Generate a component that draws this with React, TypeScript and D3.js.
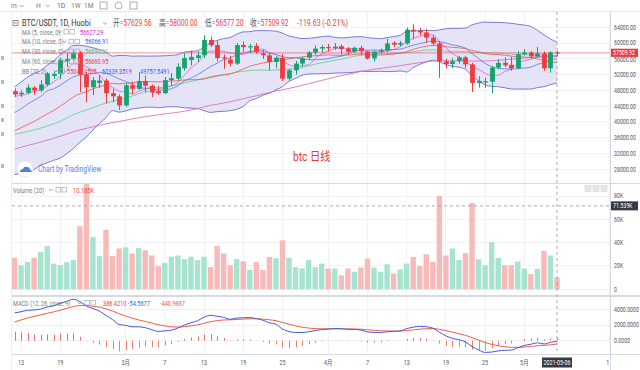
import React, { useEffect, useRef } from "react";
import * as d3 from "d3";

const W = 640;
const H = 370;

// BTC/USDT 1D, 2021-02-12 .. 2021-05-06, prices in thousands of USDT
const opens = [47.8, 47.0, 47.4, 48.7, 48.0, 49.5, 51.7, 52.2, 55.4, 56.0, 57.6, 52.0, 48.8, 49.9, 50.5, 47.3, 46.5, 44.2, 49.3, 48.4, 50.4, 49.2, 47.8, 47.3, 50.6, 51.0, 53.6, 55.7, 56.2, 56.9, 60.8, 59.5, 56.4, 55.8, 54.8, 59.5, 58.9, 59.3, 57.4, 56.9, 55.2, 56.3, 51.0, 53.1, 54.8, 56.3, 57.6, 58.6, 59.0, 58.7, 59.2, 58.6, 57.8, 58.8, 57.8, 56.1, 57.8, 58.1, 60.1, 59.6, 59.9, 63.4, 63.1, 62.7, 61.4, 59.9, 55.4, 54.7, 55.4, 56.4, 54.6, 49.9, 50.0, 50.2, 53.8, 55.0, 54.5, 53.6, 57.2, 57.6, 56.6, 57.4, 53.6, 57.63];
const highs = [48.5, 48.0, 49.5, 49.1, 50.6, 52.7, 52.8, 56.3, 57.5, 58.4, 58.0, 52.6, 51.4, 51.9, 51.0, 48.4, 47.0, 49.8, 50.2, 52.6, 51.8, 49.5, 49.2, 51.4, 52.4, 54.9, 57.4, 58.1, 57.9, 62.0, 61.7, 60.6, 57.1, 56.8, 60.0, 60.4, 59.8, 60.0, 58.3, 57.4, 56.6, 57.2, 53.5, 55.5, 56.5, 58.0, 59.4, 59.5, 59.8, 60.0, 59.7, 59.0, 59.1, 59.3, 58.0, 58.1, 58.6, 61.1, 60.4, 60.5, 64.0, 64.8, 63.8, 63.6, 62.0, 60.5, 56.0, 56.2, 56.8, 56.8, 55.0, 51.6, 51.2, 54.2, 55.9, 56.4, 56.5, 57.9, 58.5, 58.0, 59.0, 57.9, 57.9, 58.0];
const lows = [46.4, 46.3, 47.0, 46.9, 47.5, 49.0, 50.9, 50.8, 53.9, 55.5, 47.6, 45.0, 46.8, 48.6, 44.7, 45.0, 43.0, 43.8, 47.0, 48.1, 47.5, 46.3, 46.9, 47.1, 49.3, 50.5, 53.0, 54.3, 55.2, 56.1, 59.0, 55.4, 53.5, 54.1, 54.5, 57.8, 57.4, 57.3, 56.0, 53.1, 53.7, 50.4, 50.5, 52.0, 54.0, 55.8, 57.0, 57.6, 57.8, 58.3, 57.0, 57.0, 57.5, 57.0, 55.8, 55.3, 57.3, 57.8, 59.0, 59.2, 59.6, 61.0, 62.0, 60.0, 59.5, 51.2, 53.6, 53.6, 54.8, 53.6, 47.6, 48.7, 48.6, 47.3, 53.4, 53.9, 53.0, 53.3, 56.8, 56.1, 56.3, 53.0, 52.5, 56.58];
const closes = [47.0, 47.4, 48.7, 48.0, 49.5, 52.3, 52.2, 55.6, 56.0, 57.6, 52.0, 48.8, 50.6, 50.5, 47.3, 46.5, 44.2, 49.3, 48.4, 50.4, 49.2, 47.5, 47.3, 50.6, 51.1, 54.0, 56.2, 56.5, 56.9, 60.8, 59.5, 56.2, 56.1, 54.8, 59.5, 59.0, 59.2, 57.8, 56.9, 55.2, 56.3, 51.0, 53.1, 54.8, 56.2, 57.6, 58.6, 59.0, 58.7, 59.1, 58.5, 57.8, 58.8, 57.9, 56.1, 57.8, 58.2, 59.9, 59.6, 60.0, 63.4, 63.0, 62.7, 61.4, 59.9, 55.4, 54.7, 55.4, 56.4, 54.6, 49.9, 50.4, 50.3, 53.8, 55.0, 54.4, 53.6, 57.2, 57.6, 56.6, 57.4, 53.6, 57.63, 57.51];
// volume, thousands
const volumes = [27, 20.6, 23.5, 27, 32, 37, 22, 20.6, 23.3, 25, 54, 92, 45, 28.4, 51, 28.4, 35, 36, 30.7, 35.3, 33.5, 29, 19.8, 22.7, 28, 29, 25.8, 28, 25, 28, 19, 37, 30.7, 20.6, 26, 24, 16.6, 23.5, 16.6, 27.8, 26.6, 42, 27, 19, 18, 25, 19, 22, 17.8, 17.8, 12, 17.8, 15, 18.7, 26.4, 18.7, 15, 21.5, 13.5, 17, 22, 27.8, 20, 30, 23.5, 80, 29, 35, 25, 31, 74, 25.8, 20.6, 40.4, 27, 20.6, 20.6, 23.8, 17.8, 13, 17.5, 33, 29, 10.185];
// closes before the visible range (2020-12-15 .. 2021-02-11), warm-up for MA / BB / MACD
const priorCloses = [19.4, 21.3, 22.8, 23.1, 23.8, 23.5, 22.7, 23.8, 23.2, 23.7, 24.7, 26.4, 26.3, 27.0, 27.3, 28.8, 29.0, 29.4, 32.2, 33.0, 32.0, 34.0, 36.8, 39.4, 40.6, 40.2, 38.2, 35.5, 34.0, 37.4, 39.1, 36.8, 36.0, 35.8, 36.6, 36.0, 35.5, 30.8, 33.0, 32.1, 32.3, 32.5, 32.5, 30.4, 33.5, 34.3, 34.3, 33.1, 33.5, 35.5, 37.7, 36.9, 38.3, 39.3, 38.8, 46.4, 46.5, 44.8, 47.9];

const tickIdx = [1, 7, 17, 23, 29, 35, 41, 48, 54, 60, 66, 72, 78, 91];
const tickLabels = ["13", "19", "3月", "7", "13", "19", "25", "4月", "7", "13", "19", "25", "5月", "13"];
const priceTicks = [64, 60, 56, 52, 48, 44, 40, 36, 32, 28];
const volTicks = [80, 60, 40, 20, 0];
const macdTicks = [4000, 2000, 0];

const lastPrice = 57.50992;
const crossVol = 71.539;

const SX = 0.82;
const FONT = "Roboto, 'Noto Sans CJK SC', sans-serif";

const App = () => {
  const svgRef = useRef<SVGSVGElement | null>(null);

  useEffect(() => {
    const svg = d3.select(svgRef.current);
    svg.selectAll("*").remove();

    const L = 12;
    const R = 610;
    const main = { top: 12, bottom: 183 };
    const vol = { top: 184, bottom: 295 };
    const mac = { top: 297, bottom: 354 };

    const n = closes.length;
    const x = d3.scaleLinear().domain([0, n - 1]).range([14.5, 557]);
    const yP = d3.scaleLinear().domain([28, 64]).range([169.3, 27.3]);
    const yV = d3.scaleLinear().domain([0, 80]).range([289.3, 196]);
    const yM = d3.scaleLinear().domain([0, 4000]).range([340.7, 309.3]);

    // indicators
    const all = priorCloses.concat(closes);
    const P = priorCloses.length;
    const win = (i: number, len: number) => all.slice(P + i - len + 1, P + i + 1);
    const sma = (len: number) => closes.map((_, i) => d3.mean(win(i, len)) as number);
    const ma5 = sma(5);
    const ma10 = sma(10);
    const ma30 = sma(30);
    const ma60 = sma(60);
    const bbMid = sma(20);
    const bbDev = closes.map((_, i) => {
      const w = win(i, 20);
      const m = d3.mean(w) as number;
      return Math.sqrt(d3.mean(w, (v) => (v - m) * (v - m)) as number);
    });
    const bbUp = bbMid.map((m, i) => m + 2 * bbDev[i]);
    const bbLo = bbMid.map((m, i) => m - 2 * bbDev[i]);

    const ema = (a: number[], len: number) => {
      const k = 2 / (len + 1);
      const out: number[] = [];
      a.forEach((v, i) => out.push(i === 0 ? v : v * k + out[i - 1] * (1 - k)));
      return out;
    };
    const e12 = ema(all, 12);
    const e26 = ema(all, 26);
    const macdAll = all.map((_, i) => (e12[i] - e26[i]) * 1000);
    const sigAll = ema(macdAll, 9);
    const macd = macdAll.slice(P);
    const signal = sigAll.slice(P);
    const hist = macd.map((m, i) => m - signal[i]);

    const defs = svg.append("defs");
    const clip = (id: string, y0: number, y1: number) =>
      defs.append("clipPath").attr("id", id).append("rect")
        .attr("x", L).attr("y", y0).attr("width", R - L).attr("height", y1 - y0);
    clip("cMain", main.top, main.bottom);
    clip("cVol", vol.top, vol.bottom);
    clip("cMac", mac.top, mac.bottom);
    defs.append("clipPath").attr("id", "cAxis").append("rect")
      .attr("x", 0).attr("y", 355).attr("width", R - 1).attr("height", 15);

    svg.append("rect").attr("width", W).attr("height", H).attr("fill", "#fff");

    const txt = (
      g: any, px: number, py: number, s: string,
      o: { size?: number; fill?: string; anchor?: string; weight?: string } = {}
    ) =>
      g.append("text")
        .attr("transform", `translate(${px},${py}) scale(${SX},1)`)
        .attr("font-size", o.size ?? 7)
        .attr("fill", o.fill ?? "#555")
        .attr("text-anchor", o.anchor ?? "start")
        .attr("font-weight", o.weight ?? "normal")
        .text(s);

    const chev = (g: any, px: number, py: number) =>
      g.append("path").attr("d", `M${px},${py} l1.8,1.8 l1.8,-1.8`)
        .attr("fill", "none").attr("stroke", "#888").attr("stroke-width", 0.8);

    const box = (g: any, px: number, py: number) =>
      g.append("rect").attr("x", px).attr("y", py).attr("width", 4.5).attr("height", 4.5)
        .attr("fill", "none").attr("stroke", "#aaa").attr("stroke-width", 0.7);

    // grid
    const grid = svg.append("g").attr("stroke", "#f0f2f6").attr("stroke-width", 1).attr("shape-rendering", "crispEdges");
    tickIdx.forEach((t) => {
      if (x(t) < R) grid.append("line").attr("x1", x(t)).attr("x2", x(t)).attr("y1", main.top).attr("y2", mac.bottom);
    });
    priceTicks.forEach((t) => grid.append("line").attr("x1", L).attr("x2", R).attr("y1", yP(t)).attr("y2", yP(t)));
    volTicks.forEach((t) => grid.append("line").attr("x1", L).attr("x2", R).attr("y1", yV(t)).attr("y2", yV(t)));
    macdTicks.forEach((t) => grid.append("line").attr("x1", L).attr("x2", R).attr("y1", yM(t)).attr("y2", yM(t)));

    // ---------- main pane ----------
    const gm = svg.append("g").attr("clip-path", "url(#cMain)");
    gm.append("path")
      .datum(closes)
      .attr("fill", "#e4e4f6")
      .attr("d", d3.area<number>().x((_, i) => x(i)).y0((_, i) => yP(bbLo[i])).y1((_, i) => yP(bbUp[i])).curve(d3.curveMonotoneX));

    const line = (vals: number[], color: string, op = 1) =>
      gm.append("path")
        .datum(vals)
        .attr("fill", "none")
        .attr("stroke", color)
        .attr("stroke-opacity", op)
        .attr("stroke-width", 1)
        .attr("d", d3.line<number>().x((_, i) => x(i)).y((d) => yP(d)).curve(d3.curveMonotoneX));

    line(bbUp, "#7b7bd0");
    line(bbLo, "#7b7bd0");
    line(ma60, "#d76cc0", 0.85);
    line(ma30, "#5ccf8a", 0.8);
    line(bbMid, "#ef5350", 0.8);
    line(ma10, "#4f6fe0", 0.75);
    line(ma5, "#e04fe0", 0.75);

    gm.append("line")
      .attr("x1", L).attr("x2", R).attr("y1", yP(lastPrice)).attr("y2", yP(lastPrice))
      .attr("stroke", "#f23645").attr("stroke-opacity", 0.55).attr("stroke-width", 1);

    const up = "#16a26f";
    const dn = "#ef3b3b";
    const cg = gm.append("g");
    closes.forEach((c, i) => {
      const o = opens[i];
      const col = c >= o ? up : dn;
      const cx = Math.round(x(i)) + 0.5;
      cg.append("line").attr("x1", cx).attr("x2", cx).attr("y1", yP(highs[i])).attr("y2", yP(lows[i]))
        .attr("stroke", col).attr("stroke-width", 1);
      const top = yP(Math.max(o, c));
      const bot = yP(Math.min(o, c));
      cg.append("rect").attr("x", cx - 2.4).attr("y", top).attr("width", 4.8)
        .attr("height", Math.max(1, bot - top)).attr("fill", col);
    });

    // watermark-ish texts
    txt(svg, 293, 161, "btc 日线", { size: 12.5, fill: "#e53935" });

    const logo = svg.append("g");
    logo.append("circle").attr("cx", 25).attr("cy", 169).attr("r", 8).attr("fill", "#fff")
      .attr("stroke", "#e3e5ea").attr("stroke-width", 0.8);
    logo.append("path")
      .attr("d", "M20,172 q0,-3 3,-3 q1,-3 4,-2 q3,0 3,3 q2,0 2,2 z")
      .attr("fill", "#4d7fe0");
    txt(logo, 38, 171.5, "Chart by TradingView", { size: 8.2, fill: "#4f86e8" });

    // legend main
    const lg = svg.append("g");
    lg.append("rect").attr("x", 13).attr("y", 20.5).attr("width", 5).attr("height", 5)
      .attr("fill", "none").attr("stroke", "#666").attr("stroke-width", 0.7);
    lg.append("line").attr("x1", 14).attr("x2", 17).attr("y1", 23).attr("y2", 23).attr("stroke", "#666").attr("stroke-width", 0.7);
    txt(lg, 22, 26, "BTC/USDT, 1D, Huobi", { size: 9, fill: "#333" });
    chev(lg, 103, 22.5);
    const hdr: [number, string, string][] = [
      [113, "开", "=57629.56"],
      [159, "高", "=58000.00"],
      [205, "低", "=56577.20"],
      [250, "收", "=57509.92"],
    ];
    hdr.forEach(([px, k, v]) => {
      const t = lg.append("text")
        .attr("transform", `translate(${px},26) scale(0.78,1)`)
        .attr("font-size", 8.6);
      t.append("tspan").attr("fill", "#555").text(k);
      t.append("tspan").attr("fill", "#ef3b3b").text(v);
    });
    txt(lg, 297, 26, "-119.63 (-0.21%)", { size: 8.6, fill: "#ef3b3b" });

    const maLeg: [string, string, string, number][] = [
      ["MA (5, close, 0)", "56627.29", "#d81bd8", 80],
      ["MA (10, close, 0)", "56066.91", "#2962ff", 85],
      ["MA (30, close, 0)", "56094.31", "#3fcf76", 85],
      ["MA (60, close, 0)", "56860.95", "#ef3b3b", 85],
    ];
    maLeg.forEach(([name, val, col, vx], k) => {
      const by = 34.5 + k * 9.8;
      txt(lg, 22, by, name, { size: 6.8, fill: "#787b86" });
      chev(lg, vx - 22, by - 3.5);
      box(lg, vx - 16, by - 5);
      box(lg, vx - 10, by - 5);
      txt(lg, vx, by, val, { size: 6.8, fill: col });
    });
    const bby = 34.5 + 4 * 9.8;
    txt(lg, 22, bby, "BB (20, 2)", { size: 6.8, fill: "#787b86" });
    chev(lg, 54, bby - 3.5);
    box(lg, 60, bby - 5);
    txt(lg, 67, bby, "55048.4505", { size: 6.8, fill: "#ef3b3b" });
    txt(lg, 102, bby, "60339.3519", { size: 6.8, fill: "#2962ff" });
    txt(lg, 140, bby, "49757.5491", { size: 6.8, fill: "#2962ff" });

    // ---------- volume pane ----------
    const gv = svg.append("g").attr("clip-path", "url(#cVol)");
    volumes.forEach((v, i) => {
      const col = closes[i] >= opens[i] ? "#a6e4cf" : "#f8b9b9";
      gv.append("rect").attr("x", x(i) - 2.7).attr("y", yV(v)).attr("width", 5.4)
        .attr("height", yV(0) - yV(v)).attr("fill", col);
    });
    gv.append("line").attr("x1", L).attr("x2", R).attr("y1", yV(crossVol)).attr("y2", yV(crossVol))
      .attr("stroke", "#9598a1").attr("stroke-dasharray", "3,3").attr("stroke-width", 0.8);

    txt(svg, 13, 192.5, "Volume (20)", { size: 7, fill: "#787b86" });
    chev(svg, 49, 189);
    box(svg, 56, 187.5);
    box(svg, 62, 187.5);
    txt(svg, 73, 192.5, "10.185K", { size: 7, fill: "#ef3b3b" });
    [585, 593, 601].forEach((bx) =>
      svg.append("rect").attr("x", bx).attr("y", 185.5).attr("width", 6).attr("height", 6)
        .attr("fill", "#e3e5ea").attr("stroke", "#cfd2d9").attr("stroke-width", 0.5));

    // ---------- MACD pane ----------
    const gc = svg.append("g").attr("clip-path", "url(#cMac)");
    hist.forEach((h, i) => {
      const cx = Math.round(x(i)) + 0.5;
      gc.append("line").attr("x1", cx).attr("x2", cx).attr("y1", yM(0)).attr("y2", yM(h))
        .attr("stroke", h >= 0 ? "#ee6d6d" : "#f0826a").attr("stroke-width", 1);
    });
    const mline = (vals: number[], color: string) =>
      gc.append("path").datum(vals).attr("fill", "none").attr("stroke", color).attr("stroke-width", 1)
        .attr("d", d3.line<number>().x((_, i) => x(i)).y((d) => yM(d)).curve(d3.curveMonotoneX));
    mline(signal, "#f0603f");
    mline(macd, "#4a55dc");

    txt(svg, 13, 305.5, "MACD (12, 26, close, 9)", { size: 6.8, fill: "#787b86" });
    chev(svg, 78, 302);
    box(svg, 85, 300.5);
    box(svg, 91, 300.5);
    txt(svg, 103, 305.5, "386.4210", { size: 6.8, fill: "#ef3b3b" });
    txt(svg, 128, 305.5, "-54.5677", { size: 6.8, fill: "#2962ff" });
    txt(svg, 160, 305.5, "-440.9887", { size: 6.8, fill: "#f0603f" });

    // ---------- separators / axes ----------
    const sep = svg.append("g").attr("stroke", "#d6d9e0").attr("shape-rendering", "crispEdges");
    sep.append("line").attr("x1", 0).attr("x2", W).attr("y1", 11.5).attr("y2", 11.5).attr("stroke", "#e6e8ee");
    sep.append("line").attr("x1", L).attr("x2", W).attr("y1", 183.5).attr("y2", 183.5).attr("stroke-width", 1.5);
    sep.append("line").attr("x1", L).attr("x2", W).attr("y1", 296).attr("y2", 296).attr("stroke-width", 1.5);
    sep.append("line").attr("x1", L).attr("x2", W).attr("y1", 354.5).attr("y2", 354.5);
    sep.append("line").attr("x1", R + 0.5).attr("x2", R + 0.5).attr("y1", 11.5).attr("y2", 370);
    sep.append("line").attr("x1", L - 0.5).attr("x2", L - 0.5).attr("y1", 11.5).attr("y2", 370).attr("stroke", "#eceef2");

    const ax = svg.append("g");
    priceTicks.forEach((t) => {
      // the 56000 label sits just under the last-price tag
      const dy = t === 56 ? 3.6 : 2.4;
      txt(ax, 614, yP(t) + dy, d3.format(".2f")(t * 1000), { size: 6.4, fill: "#50535e" });
    });
    volTicks.forEach((t) => txt(ax, 614, yV(t) + 2.4, t === 0 ? "0" : `${t}K`, { size: 6.4, fill: "#50535e" }));
    macdTicks.forEach((t) => txt(ax, 614, yM(t) + 2.4, d3.format(".4f")(t), { size: 6.4, fill: "#50535e" }));

    // last price tag
    const py = yP(lastPrice);
    ax.append("rect").attr("x", 611).attr("y", py - 4.2).attr("width", 27).attr("height", 8.2).attr("fill", "#f23645");
    txt(ax, 613, py + 2.3, "57509.92", { size: 6.4, fill: "#fff" });
    // crosshair
    const cx = x(n - 1);
    svg.append("line").attr("x1", cx).attr("x2", cx).attr("y1", main.top).attr("y2", mac.bottom)
      .attr("stroke", "#9598a1").attr("stroke-dasharray", "3,3").attr("stroke-width", 0.8);
    const vy = yV(crossVol);
    ax.append("rect").attr("x", 611).attr("y", vy - 4.5).attr("width", 27).attr("height", 9).attr("fill", "#363a45");
    txt(ax, 613, vy + 2.4, "71.539K", { size: 6.4, fill: "#fff" });

    // time axis
    const ta = svg.append("g").attr("clip-path", "url(#cAxis)");
    tickIdx.forEach((t, k) => txt(ta, x(t), 365, tickLabels[k], { size: 6.6, fill: "#50535e", anchor: "middle" }));
    svg.append("rect").attr("x", cx - 15).attr("y", 357.5).attr("width", 30).attr("height", 10).attr("fill", "#363a45");
    txt(svg, cx, 365, "2021-05-06", { size: 6.6, fill: "#fff", anchor: "middle" });

    // top toolbar
    const tb = svg.append("g");
    txt(tb, 11, 8, "m", { size: 8, fill: "#787b86" });
    chev(tb, 20, 5);
    txt(tb, 36, 8, "H", { size: 8, fill: "#787b86" });
    chev(tb, 46, 5);
    txt(tb, 57, 8, "1D", { size: 8, fill: "#2962ff" });
    txt(tb, 71, 8, "1W", { size: 8, fill: "#787b86" });
    txt(tb, 84, 8, "1M", { size: 8, fill: "#787b86" });
    tb.append("rect").attr("x", 100).attr("y", 2).attr("width", 7).attr("height", 7).attr("fill", "none").attr("stroke", "#999").attr("stroke-width", 0.8);
    tb.append("circle").attr("cx", 118.5).attr("cy", 5.5).attr("r", 3.5).attr("fill", "none").attr("stroke", "#999").attr("stroke-width", 0.8);
    tb.append("rect").attr("x", 130).attr("y", 2).attr("width", 7).attr("height", 7).attr("fill", "none").attr("stroke", "#999").attr("stroke-width", 0.8);

    // left toolbar remnants
    [56, 80, 104, 118, 132, 164].forEach((yy) =>
      svg.append("rect").attr("x", 1).attr("y", yy).attr("width", 3).attr("height", 4).attr("fill", "#b8bbc2"));
  }, []);

  return (
    <svg
      ref={svgRef}
      width={W}
      height={H}
      style={{ position: "absolute", left: 0, top: 0, display: "block", fontFamily: FONT }}
    />
  );
};

export default App;
